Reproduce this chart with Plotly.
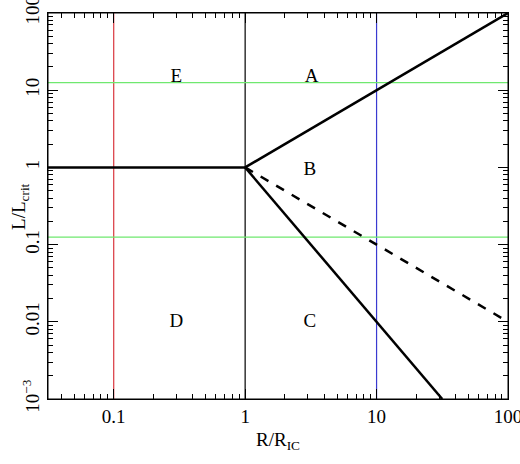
import numpy as np
import plotly.graph_objects as go

# region boundaries (L/Lcrit vs R/RIC)
flat_x = [0.0316, 1]
flat_y = [1, 1]
upper_x = [1, 100]
upper_y = [1, 100]
steep_x = [1, 31.6]
steep_y = [1, 0.001]
dashed_x = [1, 100]
dashed_y = [1, 0.01]

# reference lines
red_x = 0.1
blue_x = 10
one_x = 1
green_y = [12.5, 0.125]

# region labels
region_names = ["E", "A", "B", "D", "C"]
region_x = [0.3, 3.2, 3.1, 0.3, 3.1]
region_y = [14.5, 14.5, 0.92, 0.0098, 0.0098]

y_ticks = [100, 10, 1, 0.1, 0.01, 0.001]
y_ticktext = ["100", "10", "1", "0.1", "0.01", "10<sup>\u22123</sup>"]
x_ticks = [0.1, 1, 10, 100]
x_ticktext = ["0.1", "1", "10", "100"]

xr = [-1.5, 2]
yr = [-3, 2]

x_minor = [m * 10.0**d for d in range(-2, 2) for m in range(2, 10)]
y_minor = [m * 10.0**d for d in range(-3, 2) for m in range(2, 10)]

SERIF = "Liberation Serif"

fig = go.Figure()

# thin vertical lines
for xv, col in [(red_x, "#d9363e"), (one_x, "black"), (blue_x, "#3a3ad0")]:
    fig.add_trace(go.Scatter(x=[xv, xv], y=[0.001, 100], mode="lines",
                             line=dict(color=col, width=1.2), showlegend=False))

# green horizontal lines
for yv in green_y:
    fig.add_trace(go.Scatter(x=[10**xr[0], 100], y=[yv, yv], mode="lines",
                             line=dict(color="#6fe86f", width=1.2), showlegend=False))

# boundaries
for xs, ys, dash in [(flat_x, flat_y, "solid"), (upper_x, upper_y, "solid"),
                     (steep_x, steep_y, "solid"), (dashed_x, dashed_y, "dash")]:
    fig.add_trace(go.Scatter(x=xs, y=ys, mode="lines",
                             line=dict(color="black", width=2.5, dash=dash),
                             showlegend=False))

fig.add_trace(go.Scatter(x=region_x, y=region_y, mode="text", text=region_names,
                         textfont=dict(size=19, color="black", family=SERIF),
                         showlegend=False))

axis_common = dict(type="log", showgrid=False, zeroline=False, showline=True,
                   linecolor="black", linewidth=1, mirror="ticks", automargin=False,
                   ticks="inside", ticklen=10, tickcolor="black", tickwidth=1,
                   ticklabeloverflow="allow",
                   tickfont=dict(family=SERIF, size=19, color="black"))

fig.update_xaxes(range=xr, tickvals=x_ticks, ticktext=x_ticktext,
                 minor=dict(tickvals=x_minor, ticks="inside", ticklen=5,
                            tickcolor="black", showgrid=False),
                 **axis_common)
fig.update_yaxes(range=yr, tickvals=y_ticks, ticktext=y_ticktext, tickangle=-90,
                 minor=dict(tickvals=y_minor, ticks="inside", ticklen=5,
                            tickcolor="black", showgrid=False),
                 **axis_common)

# plot frame
fig.add_shape(type="rect", xref="paper", yref="paper", x0=0, y0=0, x1=1, y1=1,
              line=dict(color="black", width=1), layer="above")

fig.add_annotation(text="R/R<sub>IC</sub>", xref="paper", yref="paper", x=0.5, y=-0.11,
                   yanchor="middle", showarrow=False,
                   font=dict(family=SERIF, size=19, color="black"))
fig.add_annotation(text="L/L<sub>crit</sub>", xref="paper", yref="paper", x=-0.061, y=0.5,
                   textangle=-90, xanchor="center", yanchor="middle", showarrow=False,
                   font=dict(family=SERIF, size=19, color="black"))

fig.update_layout(width=520, height=464, plot_bgcolor="white", paper_bgcolor="white",
                  margin=dict(l=48, r=12, t=13, b=65))

# drop the page's default body margin so the figure sits at the top-left corner
fig.write_html("out.html", config={"displayModeBar": False},
               post_script="document.body.style.margin='0';document.body.style.overflow='hidden';")
